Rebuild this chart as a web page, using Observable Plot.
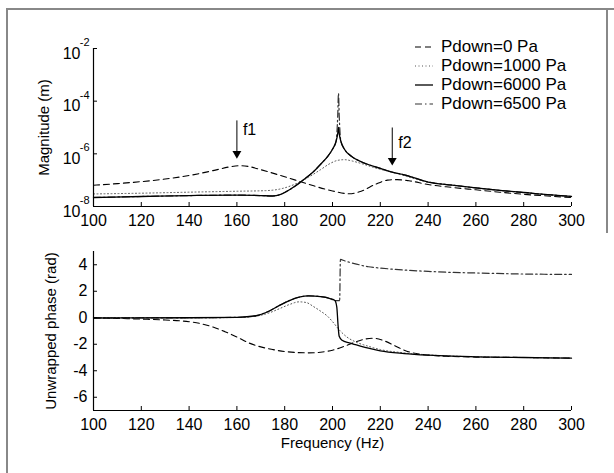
<!DOCTYPE html>
<html><head><meta charset="utf-8">
<script src="https://cdn.jsdelivr.net/npm/d3@7"></script>
<script src="https://cdn.jsdelivr.net/npm/@observablehq/plot@0.6"></script>
<style>
body{margin:0;background:#fff;font-family:"Liberation Sans",Arial,sans-serif;}
#wrap{position:relative;width:614px;height:473px;overflow:hidden;background:#fff}
.p{position:absolute;left:0}
#frame{position:absolute;left:6px;top:8px;width:620px;height:480px;border-left:2px solid #888;border-top:2px solid #888;}
#rframe{position:absolute;left:606px;top:8px;width:2px;height:225px;background:#888}
#legend{position:absolute;left:414px;top:37px;font-size:17px;color:#000;line-height:19px}
#legend div{display:flex;align-items:center;height:19px}
#legend svg{margin-right:7px}
</style></head><body>
<div id="wrap"><div id="frame"></div><div id="rframe"></div>
<div id="top" class="p" style="top:0"></div>
<div id="bot" class="p" style="top:230px"></div>
<div id="legend"></div>
</div>
<script>
// ---------- data ----------
const seriesNames = ["Pdown=0 Pa", "Pdown=1000 Pa", "Pdown=6000 Pa", "Pdown=6500 Pa"];
const xTicks = [100, 120, 140, 160, 180, 200, 220, 240, 260, 280, 300];
const magTicks = [1e-8, 1e-6, 1e-4, 1e-2];
const phaseTicks = [-6, -4, -2, 0, 2, 4];

// magnitude (m)
const mag0F = [100,110,120,130,140,150,157,161,165,170,180,190,200,207,212,218,223,227,232,240,250,260,270,280,290,300];
const mag0V = [6.4e-8,7.4e-8,8.8e-8,1.1e-7,1.5e-7,2.3e-7,3.2e-7,3.55e-7,3.3e-7,2.5e-7,1.35e-7,7e-8,3.9e-8,3.05e-8,3.8e-8,7e-8,1e-7,1.05e-7,9.5e-8,6.8e-8,5.3e-8,4.3e-8,3.5e-8,2.9e-8,2.5e-8,2.2e-8];
const mag1F = [100,120,140,160,172,178,185,190,195,199,202,205,208,212,218,225,240,250,260,270,280,290,300];
const mag1V = [3.0e-8,3.2e-8,3.5e-8,3.8e-8,4.0e-8,4.6e-8,7.5e-8,1.3e-7,2.5e-7,4.3e-7,5.6e-7,6e-7,5.4e-7,4.3e-7,2.9e-7,2e-7,8.5e-8,6.5e-8,5.1e-8,4.1e-8,3.4e-8,2.8e-8,2.4e-8];
const mag2F = [100,120,140,160,170,175,178,180,185,188,192,195,198,200,201.5,202.2,202.5,202.8,203.5,205,208,212,220,225,230,240,250,260,270,280,290,300];
const mag2V = [2.2e-8,2.4e-8,2.6e-8,2.7e-8,2.6e-8,2.5e-8,2.8e-8,3.4e-8,6.5e-8,1.05e-7,2.1e-7,4e-7,8e-7,1.5e-6,3e-6,6e-6,1e-5,6e-6,3e-6,1.5e-6,8e-7,5e-7,2.8e-7,2e-7,1.6e-7,8.5e-8,6.5e-8,5.1e-8,4.1e-8,3.4e-8,2.8e-8,2.4e-8];
const mag3F = [100,120,140,160,170,175,178,180,185,188,192,195,198,200,201.5,202.2,202.5,202.8,203.5,205,208,212,220,225,230,240,250,260,270,280,290,300];
const mag3V = [2.2e-8,2.4e-8,2.6e-8,2.7e-8,2.6e-8,2.5e-8,2.8e-8,3.4e-8,6.5e-8,1.05e-7,2.1e-7,4e-7,8e-7,1.5e-6,3e-6,3e-5,2e-4,3e-5,3e-6,1.5e-6,8e-7,5e-7,2.8e-7,2e-7,1.6e-7,8.5e-8,6.5e-8,5.1e-8,4.1e-8,3.4e-8,2.8e-8,2.4e-8];

// unwrapped phase (rad)
const ph0F = [100,110,120,130,140,145,150,155,160,165,170,175,180,190,195,200,205,210,214,217,221,226,230,235,240,250,260,280,300];
const ph0V = [0,-0.05,-0.1,-0.17,-0.3,-0.45,-0.7,-1.05,-1.45,-1.9,-2.2,-2.4,-2.55,-2.65,-2.6,-2.45,-2.15,-1.8,-1.6,-1.55,-1.7,-2.1,-2.45,-2.7,-2.82,-2.92,-2.97,-3.0,-3.05];
const ph1F = [100,140,160,168,174,178,182,186,189,192,195,198,200.5,203,206,210,215,220,230,240,260,280,300];
const ph1V = [0,0,0.02,0.12,0.4,0.7,1.0,1.2,1.15,0.85,0.5,0.1,-0.4,-0.95,-1.45,-1.85,-2.15,-2.4,-2.65,-2.8,-2.95,-3.0,-3.05];
const ph2F = [100,140,160,168,174,178,182,186,190,195,199,201,201.8,202.3,202.8,204,207,210,215,220,230,240,250,260,280,300];
const ph2V = [-0.02,0,0.03,0.15,0.55,0.95,1.3,1.55,1.65,1.6,1.45,1.3,0.8,-0.5,-1.4,-1.7,-1.9,-2.05,-2.3,-2.5,-2.7,-2.82,-2.9,-2.95,-3.0,-3.05];
const ph3F = [100,140,160,168,174,178,182,186,190,195,199,201,203,203.3,205,210,215,220,230,240,250,260,280,300];
const ph3V = [-0.02,0,0.03,0.15,0.55,0.95,1.3,1.55,1.65,1.6,1.45,1.3,1.3,4.4,4.3,4.05,3.85,3.75,3.6,3.5,3.42,3.38,3.3,3.27];

// annotations
const arrowF = [160, 225];
const arrowTop = [1.86e-5, 1e-5];
const arrowTip = [7.9e-7, 4.3e-7];
const arrowLabel = ["f1", "f2"];
const arrowLabelY = [7.8e-6, 2.7e-6];

// ---------- build ----------
const zip = (name, F, V) => F.map((f, i) => ({name, f, v: V[i]}));
const magData = [zip(seriesNames[0], mag0F, mag0V), zip(seriesNames[1], mag1F, mag1V), zip(seriesNames[3], mag3F, mag3V), zip(seriesNames[2], mag2F, mag2V)];
const phData = [zip(seriesNames[0], ph0F, ph0V), zip(seriesNames[1], ph1F, ph1V), zip(seriesNames[3], ph3F, ph3V), zip(seriesNames[2], ph2F, ph2V)];
const styles = {
  "Pdown=0 Pa": {stroke: "#000", strokeWidth: 1.1, strokeDasharray: "6,4"},
  "Pdown=1000 Pa": {stroke: "#555", strokeWidth: 1, strokeDasharray: "1,2.5"},
  "Pdown=6000 Pa": {stroke: "#000", strokeWidth: 1.3, strokeDasharray: null},
  "Pdown=6500 Pa": {stroke: "#333", strokeWidth: 1.2, strokeDasharray: "7,3,1.5,3"}
};
const lineMarks = (sets) => sets.map(d => Plot.line(d, {x: "f", y: "v", curve: "monotone-x", ...styles[d[0].name]}));
const font = "Liberation Sans, Arial, sans-serif";
const baseStyle = {fontFamily: font, fontSize: "15px", color: "#000", background: "transparent", overflow: "visible"};
const TICK_FS = 16;

const arrows = arrowF.map((f, i) => ({f, t: arrowTop[i], b: arrowTip[i], label: arrowLabel[i], ly: arrowLabelY[i]}));

const topPlot = Plot.plot({
  width: 614, height: 240, marginLeft: 93, marginRight: 43, marginTop: 48, marginBottom: 34,
  style: baseStyle,
  x: {domain: [100, 300]},
  y: {type: "log", domain: [1e-8, 1e-2]},
  marks: [
    ...lineMarks(magData),
    Plot.ruleX([100], {stroke: "#000", strokeWidth: 1.2}),
    Plot.ruleY([1e-8], {stroke: "#000", strokeWidth: 1.2}),
    Plot.axisX({ticks: xTicks, tickSize: -4, tickPadding: 12, tickFormat: d => String(d), label: null, fontSize: TICK_FS}),
    Plot.axisY({ticks: magTicks, tickSize: -4, tickFormat: () => "", label: null}),
    Plot.text(magTicks, {frameAnchor: "left", y: d => d, text: () => "10", dx: -13, dy: 5, textAnchor: "end", fontSize: TICK_FS}),
    Plot.text(magTicks, {frameAnchor: "left", y: d => d, text: d => String(Math.round(Math.log10(d))), dx: -4, dy: -6, textAnchor: "end", fontSize: 11}),
    Plot.text(["Magnitude (m)"], {frameAnchor: "left", dx: -49, rotate: -90, textAnchor: "middle", lineAnchor: "middle", fontSize: 15}),
    Plot.link(arrows, {x1: "f", x2: "f", y1: "t", y2: "b", stroke: "#000", strokeWidth: 1}),
    Plot.dot(arrows, {x: "f", y: "b", symbol: "triangle", r: 3.3, rotate: 180, fill: "#000", stroke: null, dy: -3}),
    Plot.text(arrows, {x: "f", y: "ly", text: "label", dx: 6, textAnchor: "start", fontSize: 16})
  ]
});
document.getElementById("top").appendChild(topPlot);

const botPlot = Plot.plot({
  width: 614, height: 243, marginLeft: 93, marginRight: 43, marginTop: 21, marginBottom: 63,
  style: baseStyle,
  x: {domain: [100, 300]},
  y: {domain: [-7, 5]},
  marks: [
    ...lineMarks(phData),
    Plot.ruleX([100], {stroke: "#000", strokeWidth: 1.2}),
    Plot.ruleY([-7], {stroke: "#000", strokeWidth: 1.2}),
    Plot.axisX({ticks: xTicks, tickSize: -4, tickPadding: 12, tickFormat: d => String(d), label: null, fontSize: TICK_FS}),
    Plot.axisY({ticks: phaseTicks, tickSize: -4, tickPadding: 10, tickFormat: d => String(d), label: null, fontSize: TICK_FS}),
    Plot.text(["Unwrapped phase (rad)"], {frameAnchor: "left", dx: -42, rotate: -90, textAnchor: "middle", lineAnchor: "middle", fontSize: 15}),
    Plot.text(["Frequency (Hz)"], {frameAnchor: "bottom", dy: 33, lineAnchor: "middle", fontSize: 15})
  ]
});
document.getElementById("bot").appendChild(botPlot);

// legend
const leg = document.getElementById("legend");
seriesNames.forEach(n => {
  const s = styles[n];
  const row = document.createElement("div");
  row.innerHTML = `<svg width="20" height="10"><line x1="1" y1="5" x2="19" y2="5" stroke="${s.stroke}" stroke-width="${s.strokeWidth}" ${s.strokeDasharray ? `stroke-dasharray="${s.strokeDasharray}"` : ""}/></svg><span>${n}</span>`;
  leg.appendChild(row);
});
</script>
</body></html>
